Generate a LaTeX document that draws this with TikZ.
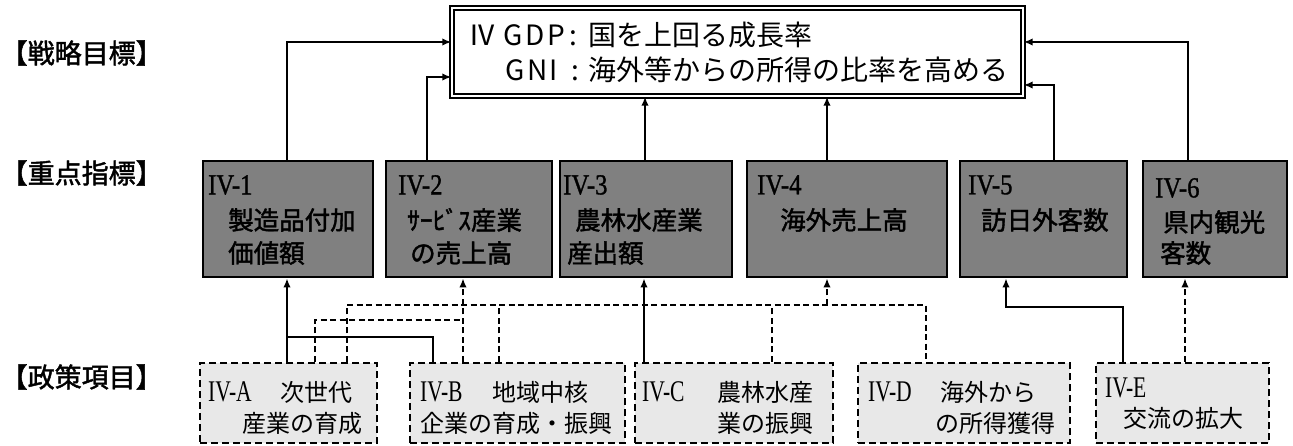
\documentclass[tikz,border=0pt]{standalone}
\usepackage{fontspec}
\usetikzlibrary{arrows.meta}
\newfontfamily\jp{Noto Sans CJK JP}
\newfontfamily\jpb{Noto Sans CJK JP}[FakeBold=1.6]
\newfontfamily\rom{Liberation Serif}
\newfontfamily\romb{Liberation Serif}[FakeBold=1.2]
\newcommand{\fwc}[1]{\makebox[22pt][l]{#1}}
\tikzset{
  mid/.style={draw, line width=2.8pt, fill=black!50, inner sep=0pt},
  pol/.style={draw, line width=2.3pt, dash pattern=on 7pt off 4pt, fill=black!9, inner sep=0pt},
  topbox/.style={draw, double, double distance=2.5pt, line width=1.4pt, fill=white, inner sep=0pt},
  conn/.style={line width=2pt},
  dln/.style={conn, dash pattern=on 6pt off 3.5pt},
  arr/.style={conn, -{Latex[length=9pt,width=7.5pt]}},
  darr/.style={dln, -{Latex[length=9pt,width=7.5pt]}},
  lab/.style={anchor=west, inner sep=0pt, font=\jpb\fontsize{27}{27}\selectfont},
  tt/.style={anchor=west, inner sep=0pt, font=\jp\fontsize{28}{28}\selectfont},
  mnum/.style={anchor=west, inner sep=0pt, font=\romb\fontsize{29}{29}\selectfont},
  mtx/.style={anchor=west, inner sep=0pt, font=\jpb\fontsize{25.5}{25.5}\selectfont},
  bnum/.style={anchor=west, inner sep=0pt, font=\rom\fontsize{30}{30}\selectfont},
  btx/.style={anchor=west, inner sep=0pt, font=\jp\fontsize{24}{24}\selectfont},
}
\begin{document}
\begin{tikzpicture}[x=1pt,y=-1pt]
\useasboundingbox (0,0) rectangle (1293,446);
% left labels
\node[lab] (l1) at (0.5,53) {【戦略目標】};
\node[lab] (l2) at (0.5,173) {【重点指標】};
\node[lab] (l3) at (0.5,377) {【政策項目】};
% top box
\node[topbox, minimum width=571pt, minimum height=88pt] (top) at (737.5,52) {};
\node[tt] (t1n) at (468,35) {Ⅳ};
\node[tt] (t1) at (503,35) {\fwc{G}\fwc{D}\fwc{P}\makebox[19pt][l]{:}国を上回る成長率};
\node[tt] (t2) at (505,70) {\fwc{G}\fwc{N}\fwc{I}\makebox[17pt][l]{:}海外等からの所得の比率を高める};
% middle boxes
\node[mid, minimum width=170pt, minimum height=116pt] (m1) at (288,219) {};
\node[mid, minimum width=166pt, minimum height=116pt] (m2) at (469,219) {};
\node[mid, minimum width=172pt, minimum height=116pt] (m3) at (646,219) {};
\node[mid, minimum width=200pt, minimum height=116pt] (m4) at (847,219) {};
\node[mid, minimum width=167pt, minimum height=116pt] (m5) at (1043.5,219) {};
\node[mid, minimum width=144pt, minimum height=116pt] (m6) at (1215,219) {};
\node[mnum] (m1a) at (208,185) {\scalebox{0.85}[1]{IV-1}};
\node[mtx] (m1b) at (228,220) {製造品付加};
\node[mtx] (m1c) at (228,253) {価値額};
\node[mnum] (m2a) at (398,185) {\scalebox{0.85}[1]{IV-2}};
\node[mtx] (m2b) at (407,220) {ｻｰﾋﾞｽ産業};
\node[mtx] (m2c) at (410,253) {の売上高};
\node[mnum] (m3a) at (563,185) {\scalebox{0.85}[1]{IV-3}};
\node[mtx] (m3b) at (575,220) {農林水産業};
\node[mtx] (m3c) at (567,253) {産出額};
\node[mnum] (m4a) at (757,185) {\scalebox{0.85}[1]{IV-4}};
\node[mtx] (m4b) at (780,220) {海外売上高};
\node[mnum] (m5a) at (968,185) {\scalebox{0.85}[1]{IV-5}};
\node[mtx] (m5b) at (981,220) {訪日外客数};
\node[mnum] (m6a) at (1155,188) {\scalebox{0.85}[1]{IV-6}};
\node[mtx] (m6b) at (1163,222) {県内観光};
\node[mtx] (m6c) at (1160,253) {客数};
% policy boxes
\node[pol, minimum width=177pt, minimum height=80pt] (pA) at (288.5,403) {};
\node[pol, minimum width=215pt, minimum height=80pt] (pB) at (517.5,403) {};
\node[pol, minimum width=198pt, minimum height=80pt] (pC) at (734,403) {};
\node[pol, minimum width=212pt, minimum height=80pt] (pD) at (964,403) {};
\node[pol, minimum width=173pt, minimum height=80pt] (pE) at (1182.5,403) {};
\node[bnum] (pAa) at (208,392) {\scalebox{0.72}[1]{IV-A}};
\node[btx] (pAb) at (280,392) {次世代};
\node[btx] (pAc) at (242,423) {産業の育成};
\node[bnum] (pBa) at (420,392) {\scalebox{0.72}[1]{IV-B}};
\node[btx] (pBb) at (492,392) {地域中核};
\node[btx] (pBc) at (420,423) {企業の育成・振興};
\node[bnum] (pCa) at (642,392) {\scalebox{0.72}[1]{IV-C}};
\node[btx] (pCb) at (717,392) {農林水産};
\node[btx] (pCc) at (717,423) {業の振興};
\node[bnum] (pDa) at (868,392) {\scalebox{0.72}[1]{IV-D}};
\node[btx] (pDb) at (940,392) {海外から};
\node[btx] (pDc) at (935,423) {の所得獲得};
\node[bnum] (pEa) at (1105,388) {\scalebox{0.72}[1]{IV-E}};
\node[btx] (pEb) at (1123,418) {交流の拡大};
% coordinates
\coordinate (k1) at (287,42);
\coordinate (k2) at (427,77);
\coordinate (k3) at (645,0);
\coordinate (k4) at (827,0);
\coordinate (k5) at (1054,85);
\coordinate (k6) at (1188,42);
\coordinate (p1) at (287,0);
\coordinate (q1) at (433,337);
\coordinate (p2) at (463,320);
\coordinate (q2) at (315,320);
\coordinate (p4) at (827,305);
\coordinate (q3) at (347,305);
\coordinate (q4) at (926,305);
\coordinate (qb) at (499,305);
\coordinate (qc) at (772,305);
\coordinate (pc) at (644,0);
\coordinate (qe) at (1123,307);
\coordinate (pe) at (1006,307);
\coordinate (de) at (1185,0);
% middle -> top
\draw[arr] (m1.north -| k1) |- (top.west |- k1);
\draw[arr] (m2.north -| k2) |- (top.west |- k2);
\draw[arr] (m3.north -| k3) -- (top.south -| k3);
\draw[arr] (m4.north -| k4) -- (top.south -| k4);
\draw[arr] (m5.north -| k5) |- (top.east |- k5);
\draw[arr] (m6.north -| k6) |- (top.east |- k6);
% policy -> middle
\draw[arr] (pA.north -| p1) -- (m1.south -| p1);
\draw[conn] (pB.north -| q1) |- (p1 |- q1);
\draw[darr] (pB.north -| p2) -- (m2.south -| p2);
\draw[dln] (pA.north -| q2) |- (p2);
\draw[dln] (pA.north -| q3) |- (q4) -- (pD.north -| q4);
\draw[dln] (pB.north -| qb) -- (qb);
\draw[dln] (pC.north -| qc) -- (qc);
\draw[darr] (p4) -- (m4.south -| p4);
\draw[arr] (pC.north -| pc) -- (m3.south -| pc);
\draw[arr] (pE.north -| qe) |- (pe) -- (m5.south -| pe);
\draw[darr] (pE.north -| de) -- (m6.south -| de);
\end{tikzpicture}
\end{document}
